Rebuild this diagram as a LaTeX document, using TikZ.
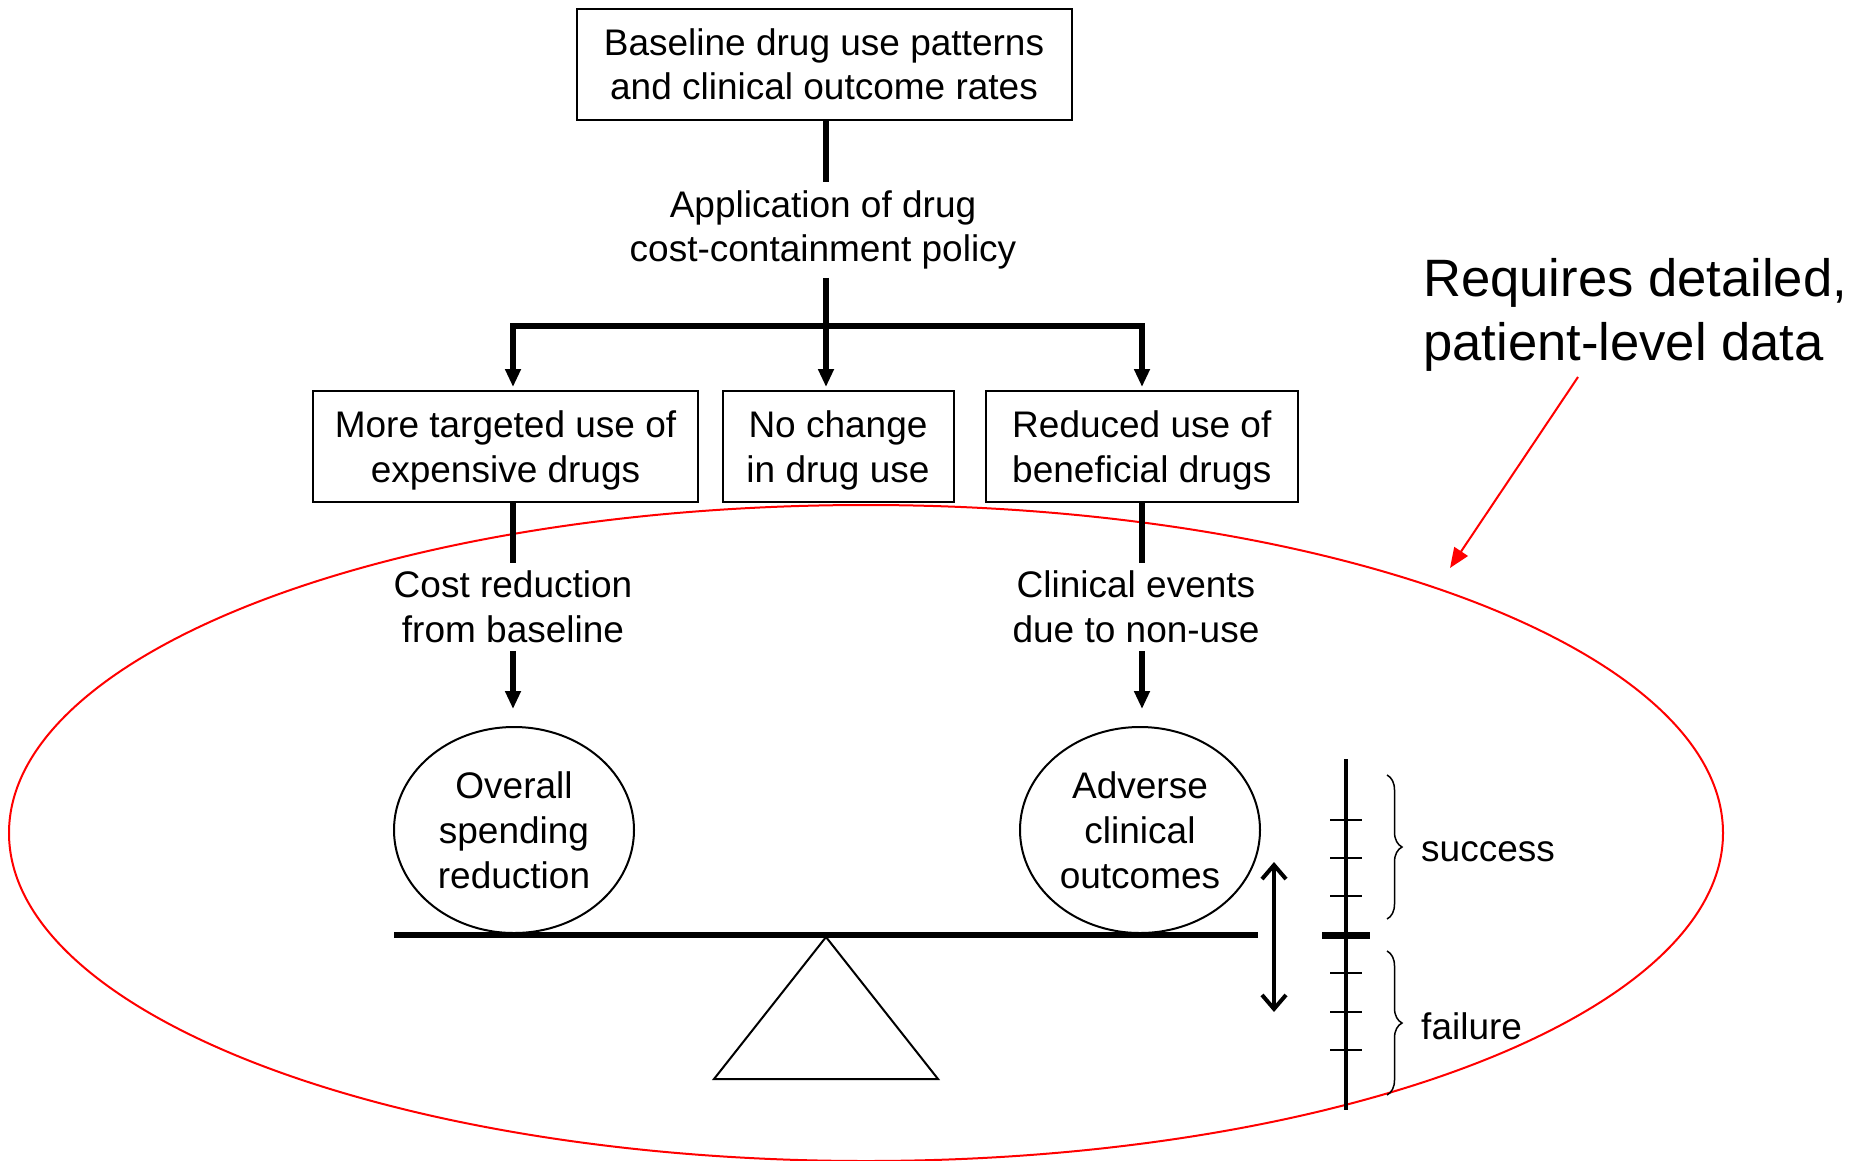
\documentclass[tikz,border=0pt]{standalone}
\usepackage{fontspec}
\setmainfont{Liberation Sans}
\usetikzlibrary{shapes.geometric,arrows.meta,decorations.pathreplacing}
\newcommand\mynf{\fontsize{37}{44.6}\selectfont}
\newcommand\mybigf{\fontsize{52.6}{64}\selectfont}
\begin{document}
\begin{tikzpicture}[x=1pt,y=-1pt,
  box/.style={draw, line width=2pt, align=center, font=\mynf, inner sep=0pt, minimum height=111pt, text depth=0pt},
  lbl/.style={align=center, font=\mynf, inner xsep=0pt, inner ysep=8pt},
  conn/.style={line width=5.5pt},
  arr/.style={conn, -{Triangle[length=18pt,width=15pt]}},
  oval/.style={ellipse, draw, line width=2pt, align=center, font=\mynf, minimum width=240pt, minimum height=206pt, inner sep=0pt, text depth=0pt},
  side/.style={font=\mynf, anchor=west, inner sep=0pt},
  brc/.style={line width=1.5pt, decorate, decoration={brace, amplitude=15pt}},
  tick/.style={line width=2.5pt}
]
\useasboundingbox[fill=white] (0,0) rectangle (1866,1160);

% red ellipse
\draw[red, line width=2pt] (866,833) ellipse [x radius=857, y radius=328];

% top
\node[box, minimum width=495pt] (top) at (824,64) {Baseline drug use patterns\\and clinical outcome rates};
\node[lbl] (app) at (823,230) {Application of drug\\cost-containment policy};
\coordinate (jn) at (826,326);
\coordinate (jl) at (513,326);
\coordinate (jr) at (1142,326);

\node[box, minimum width=385pt] (b1) at (505.5,446.5) {More targeted use of\\expensive drugs};
\node[box, minimum width=231pt] (b2) at (838,446.5) {No change\\in drug use};
\node[box, minimum width=312pt] (b3) at (1141.8,446.5) {Reduced use of\\beneficial drugs};

\node[lbl] (cr) at (513,607) {Cost reduction\\from baseline};
\node[lbl] (ce) at (1136,607) {Clinical events\\due to non-use};

\node[oval] (os) at (514,830) {Overall\\spending\\reduction};
\node[oval] (ac) at (1140,830) {Adverse\\clinical\\outcomes};

% connectors
\draw[conn] (top.south -| jn) -- (app.north -| jn);
\draw[conn] (app.south -| jn) -- (jn);
\draw[arr, shorten >=3pt] (jn) -| (b1.north -| jl);
\draw[arr, shorten >=3pt] (jn) -| (b3.north -| jr);
\draw[arr, shorten >=3pt] (jn) -- (b2.north -| jn);
\draw[conn] (b1.south -| jl) -- (cr.north -| jl);
\draw[arr, shorten >=17pt] (cr.south -| jl) -- (os.north -| jl);
\draw[conn] (b3.south -| jr) -- (ce.north -| jr);
\draw[arr, shorten >=17pt] (ce.south -| jr) -- (ac.north -| jr);

% balance
\draw[line width=6pt] (394,935) -- (1258,935);
\draw[line width=2pt, line join=miter] (826,937) -- (714,1079) -- (938,1079) -- cycle;

% double arrow
\coordinate (da) at (1274,862);
\coordinate (db) at (1274,1012);
\draw[line width=4pt, {Straight Barb[length=14pt,width=24pt]}-{Straight Barb[length=14pt,width=24pt]}] (da) -- (db);

% scale
\draw[line width=4.5pt] (1346,759) -- (1346,1110);
\foreach \yy in {820,858,896,973,1012,1050} \draw[tick] (1330,\yy) -- (1362,\yy);
\draw[line width=7pt] (1322,935) -- (1370,935);
\draw[brc] (1387,775) -- (1387,919);
\draw[brc] (1387,951) -- (1387,1095);
\node[side] (succ) at (1421,852) {success};
\node[side] (fail) at (1421,1026) {failure};

% annotation
\node[font=\mybigf, align=left, anchor=north west, inner sep=0pt] (req) at (1423,258) {Requires detailed,\\patient-level data};
\coordinate (ra) at (1578,377);
\coordinate (rb) at (1450,568);
\draw[red, line width=2pt, -{Triangle[length=20pt,width=16pt]}] (ra) -- (rb);
\end{tikzpicture}
\end{document}
